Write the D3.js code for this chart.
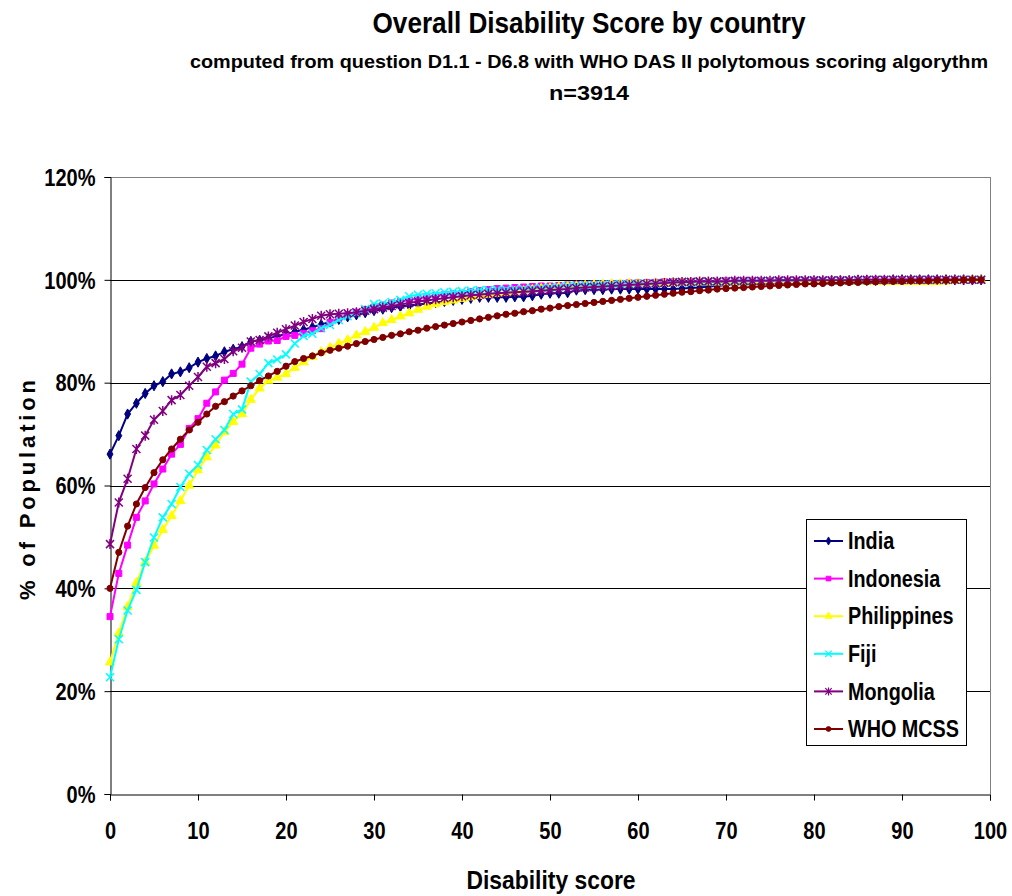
<!DOCTYPE html>
<html><head><meta charset="utf-8">
<script src="https://cdn.jsdelivr.net/npm/d3@7"></script>
<style>
body{margin:0;background:#fff}
svg{display:block}
text{font-family:"Liberation Sans",Arial,sans-serif;font-weight:bold;fill:#000}
</style>
</head><body>
<svg id="chart" width="1012" height="896"></svg>
<script>
// ---------- DATA ----------
const scores = [0,1,2,3,4,5,6,7,8,9,10,11,12,13,14,15,16,17,18,19,20,21,22,23,24,25,26,27,28,29,30,31,32,33,34,35,36,37,38,39,40,41,42,43,44,45,46,47,48,49,50,51,52,53,54,55,56,57,58,59,60,61,62,63,64,65,66,67,68,69,70,71,72,73,74,75,76,77,78,79,80,81,82,83,84,85,86,87,88,89,90,91,92,93,94,95,96,97,98,99];

const seriesNames = ["India","Indonesia","Philippines","Fiji","Mongolia","WHO MCSS"];

const india = [66.1,69.7,73.9,76.0,77.9,79.4,80.2,81.7,82.1,82.9,
 84.0,84.7,85.2,86.0,86.5,87.0,88.0,88.2,88.6,89.1,
 89.4,89.9,90.3,90.8,91.3,91.8,92.3,92.8,93.2,93.6,
 94.0,94.3,94.6,94.8,95.0,95.2,95.4,95.6,95.8,96.0,
 96.2,96.4,96.6,96.6,96.6,96.6,96.7,96.7,96.9,97.2,
 97.4,97.4,97.5,98.0,98.1,98.1,98.1,98.2,98.2,98.2,
 98.2,98.2,98.2,98.2,98.2,98.3,98.4,98.5,98.7,98.8,
 99.0,99.1,99.2,99.3,99.3,99.4,99.5,99.5,99.6,99.6,
 99.7,99.7,99.8,99.8,99.8,99.9,99.9,99.9,99.9,100,
 100,100,100,100,100,100,100,100,100,100];

const indonesia = [34.5,42.9,48.4,53.8,57.0,60.3,63.2,66.1,68.0,71.1,
 73.0,76.0,78.2,80.5,81.8,83.6,86.7,87.5,88.1,88.2,
 89.0,89.2,89.6,90.1,90.5,91.7,92.5,93.2,93.7,94.2,
 94.7,95.1,95.5,95.8,96.1,96.4,96.6,96.9,97.1,97.3,
 97.4,97.7,97.9,98.1,98.3,98.4,98.5,98.6,98.7,98.8,
 98.8,98.9,99.0,99.1,99.1,99.2,99.2,99.3,99.3,99.4,
 99.4,99.5,99.5,99.6,99.6,99.6,99.7,99.7,99.7,99.7,
 99.8,99.8,99.8,99.8,99.8,99.8,99.9,99.9,99.9,99.9,
 99.9,99.9,99.9,99.9,99.9,99.9,100,100,100,100,
 100,100,100,100,100,100,100,100,100,100];

const philippines = [25.6,31.3,36.4,41.1,45.1,48.3,51.4,54.1,57.0,60.0,
 63.0,65.5,67.8,70.4,72.4,73.9,76.7,78.9,80.4,81.0,
 81.7,82.9,84.0,85.0,86.0,86.8,87.6,88.3,89.2,89.9,
 90.7,91.6,92.2,92.9,93.5,94.2,94.8,95.3,95.7,96.0,
 96.3,96.6,96.9,97.1,97.3,97.5,97.7,97.9,98.1,98.3,
 98.4,98.6,98.7,98.8,98.9,99.0,99.1,99.2,99.2,99.3,
 99.3,99.3,99.4,99.4,99.4,99.5,99.5,99.5,99.5,99.5,
 99.5,99.5,99.5,99.5,99.5,99.6,99.6,99.6,99.6,99.6,
 99.6,99.6,99.6,99.6,99.6,99.6,99.6,99.6,99.6,99.6,
 99.6,99.6,99.6,99.6,99.6,99.7,99.8,99.9,100,100];

const fiji = [22.7,30.1,35.7,39.7,45.1,49.9,53.8,56.4,59.7,62.3,
 64.0,66.9,69.0,70.8,73.9,74.8,80.2,81.7,83.8,84.5,
 85.5,87.6,89.1,89.5,90.6,91.2,92.2,92.9,93.5,94.3,
 95.3,95.4,95.7,96.1,96.8,97.1,97.3,97.4,97.6,97.7,
 97.8,97.9,98.0,98.0,98.1,98.1,98.2,98.2,98.3,98.4,
 98.5,98.6,98.8,98.9,99.0,99.0,99.1,99.1,99.2,99.2,
 99.3,99.3,99.4,99.4,99.5,99.5,99.5,99.6,99.6,99.6,
 99.7,99.7,99.7,99.7,99.8,99.8,99.8,99.8,99.8,99.9,
 99.9,99.9,99.9,99.9,99.9,99.9,99.9,100,100,100,
 100,100,100,100,100,100,100,100,100,100];

const mongolia = [48.6,56.7,61.3,67.1,69.7,72.8,74.5,76.6,77.6,79.4,
 81.1,83.1,83.8,84.6,86.1,86.8,88.0,88.3,89.0,89.7,
 90.4,91.1,91.8,92.4,93.0,93.3,93.4,93.5,93.7,94.0,
 94.3,94.6,94.9,95.2,95.5,95.8,96.0,96.2,96.4,96.6,
 96.8,97.0,97.1,97.3,97.4,97.5,97.6,97.7,97.8,97.9,
 98.0,98.1,98.2,98.4,98.5,98.6,98.7,98.8,98.9,99.0,
 99.1,99.2,99.3,99.4,99.5,99.6,99.6,99.7,99.7,99.7,
 99.7,99.8,99.8,99.8,99.8,99.8,99.9,99.9,99.9,99.9,
 99.9,99.9,99.9,99.9,99.9,100,100,100,100,100,
 100,100,100,100,100,100,100,100,100,100];

const whoMcss = [40.0,47.0,52.1,56.4,59.6,62.5,65.0,67.1,69.0,70.8,
 72.3,73.9,75.4,76.3,77.4,78.4,79.4,80.4,81.3,82.2,
 83.2,84.1,84.7,85.2,85.8,86.3,86.7,87.1,87.6,88.0,
 88.4,88.8,89.2,89.5,89.9,90.2,90.6,90.9,91.2,91.5,
 91.8,92.1,92.4,92.7,93.0,93.3,93.5,93.8,94.0,94.3,
 94.5,94.8,95.0,95.2,95.4,95.6,95.8,96.0,96.2,96.4,
 96.6,96.8,97.0,97.2,97.4,97.6,97.7,97.9,98.0,98.2,
 98.3,98.4,98.5,98.6,98.7,98.8,98.9,99.0,99.1,99.2,
 99.2,99.3,99.4,99.4,99.5,99.5,99.6,99.6,99.7,99.7,
 99.7,99.8,99.8,99.8,99.9,99.9,99.9,100,100,100];

const xTicks = [0,10,20,30,40,50,60,70,80,90,100];
const yTicks = [0,20,40,60,80,100,120];

const colors = ["#000080","#FF00FF","#FFFF00","#00FFFF","#800080","#800000"];
const markers = ["diamond","square","triangle","x","star","circle"];
const seriesValues = [india, indonesia, philippines, fiji, mongolia, whoMcss];

// ---------- CHART ----------
const svg = d3.select("#chart");
const x = d3.scaleLinear().domain([0,100]).range([110,990]);
const y = d3.scaleLinear().domain([0,120]).range([794,177]);

// squeeze text horizontally: render at a larger size, then fit to width
function squeeze(sel, factor){
  sel.each(function(){
    const w = this.getComputedTextLength();
    d3.select(this).attr("textLength", w*factor).attr("lengthAdjust","spacingAndGlyphs");
  });
}

// plot frame (top & right)
svg.append("line").attr("x1",110).attr("x2",990).attr("y1",177.5).attr("y2",177.5).attr("stroke","#808080");
svg.append("line").attr("x1",990.5).attr("x2",990.5).attr("y1",177).attr("y2",794).attr("stroke","#808080");

// gridlines
svg.append("g").selectAll("line").data(yTicks.filter(d=>d>0 && d<120)).join("line")
  .attr("x1",x(0)).attr("x2",x(100))
  .attr("y1",d=>Math.round(y(d))+0.5).attr("y2",d=>Math.round(y(d))+0.5)
  .attr("stroke","#000").attr("stroke-width",1);

// axes
const yAxis = d3.axisLeft(y).tickValues(yTicks).tickFormat(d=>d+"%").tickSize(6).tickPadding(9);
const gy = svg.append("g").attr("transform","translate(110.5,0)").call(yAxis);
gy.select(".domain").attr("stroke","#000");
gy.selectAll(".tick line").attr("stroke","#000");
gy.selectAll(".tick text").style("font-size","23px").attr("dy","0.36em").call(squeeze,0.87);

const xAxis = d3.axisBottom(x).tickValues(xTicks).tickFormat(d3.format("d")).tickSize(6).tickPadding(22);
const gx = svg.append("g").attr("transform","translate(0,794.5)").call(xAxis);
gx.select(".domain").attr("stroke","#000");
gx.selectAll(".tick line").attr("stroke","#000");
gx.selectAll(".tick text").style("font-size","23px").call(squeeze,0.87);

// series
function markerPath(type){
  const s = 4;
  if(type==="x") return `M${-s},${-s}L${s},${s}M${-s},${s}L${s},${-s}`;
  if(type==="star") return `M${-s},${-s}L${s},${s}M${-s},${s}L${s},${-s}M0,${-s-1}L0,${s+1}`;
  const symMap = {diamond:d3.symbolDiamond, square:d3.symbolSquare, triangle:d3.symbolTriangle, circle:d3.symbolCircle};
  const size = {diamond:30, square:36, triangle:36, circle:30}[type];
  return d3.symbol().type(symMap[type]).size(size)();
}

const line = d3.line().x((d,i)=>x(scores[i])).y(d=>y(d));
seriesValues.forEach((vals,k)=>{
  const g = svg.append("g");
  g.append("path").datum(vals).attr("d",line).attr("fill","none")
    .attr("stroke",colors[k]).attr("stroke-width",2).attr("stroke-linejoin","round");
  const mp = markerPath(markers[k]);
  const isStroke = markers[k]==="x" || markers[k]==="star";
  g.selectAll("path.m").data(vals).join("path").attr("class","m")
    .attr("transform",(d,i)=>`translate(${x(scores[i])},${y(d)})`)
    .attr("d",mp)
    .attr("fill",isStroke?"none":colors[k])
    .attr("stroke",colors[k]).attr("stroke-width",isStroke?1.5:1);
});

// legend
const lg = svg.append("g");
lg.append("rect").attr("x",806.5).attr("y",519.5).attr("width",160).attr("height",226)
  .attr("fill","#fff").attr("stroke","#000");
seriesNames.forEach((name,k)=>{
  const cy = 541 + k*37.6;
  lg.append("line").attr("x1",814).attr("x2",843).attr("y1",cy).attr("y2",cy)
    .attr("stroke",colors[k]).attr("stroke-width",2);
  const mp = markerPath(markers[k]);
  const isStroke = markers[k]==="x" || markers[k]==="star";
  lg.append("path").attr("transform",`translate(828.5,${cy}) scale(0.8)`).attr("d",mp)
    .attr("fill",isStroke?"none":colors[k]).attr("stroke",colors[k]).attr("stroke-width",isStroke?1.5:1);
  lg.append("text").attr("x",848).attr("y",cy).attr("dy","0.36em").style("font-size","23px")
    .text(name).call(squeeze,0.86);
});

// titles
svg.append("text").attr("x",589).attr("y",33).attr("text-anchor","middle").style("font-size","30px")
  .attr("textLength",433).attr("lengthAdjust","spacingAndGlyphs").text("Overall Disability Score by country");
svg.append("text").attr("x",589).attr("y",68).attr("text-anchor","middle").style("font-size","18.5px")
  .attr("textLength",798).attr("lengthAdjust","spacingAndGlyphs").text("computed from question D1.1 - D6.8 with WHO DAS II polytomous scoring algorythm");
svg.append("text").attr("x",589).attr("y",100).attr("text-anchor","middle").style("font-size","21px")
  .attr("textLength",80).attr("lengthAdjust","spacingAndGlyphs").text("n=3914");

// axis titles
svg.append("text").attr("x",551).attr("y",889).attr("text-anchor","middle").style("font-size","25px")
  .attr("textLength",169).attr("lengthAdjust","spacingAndGlyphs").text("Disability score");
svg.append("text").attr("transform","translate(35,490) rotate(-90)").attr("text-anchor","middle")
  .style("font-size","22px").attr("textLength",220).attr("lengthAdjust","spacing")
  .text("% of Population");
</script>
</body></html>
